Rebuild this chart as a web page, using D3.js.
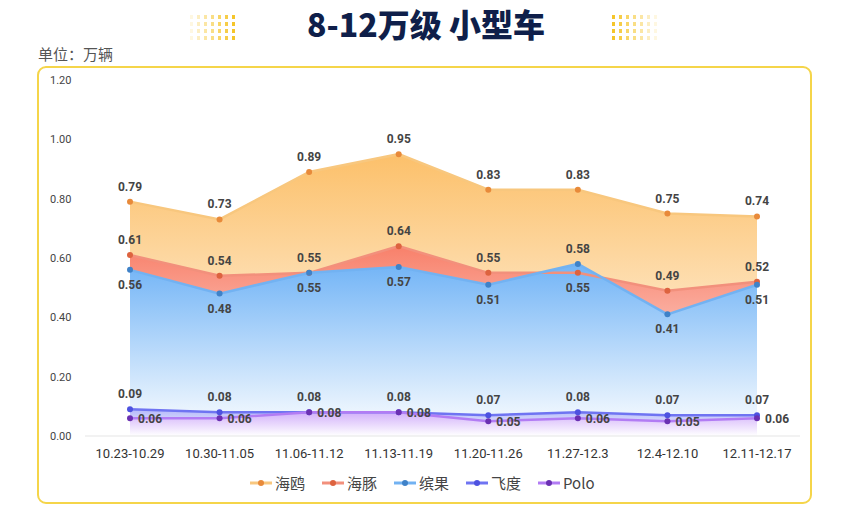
<!DOCTYPE html>
<html><head><meta charset="utf-8">
<script src="https://cdn.jsdelivr.net/npm/d3@7"></script>
<style>body{margin:0;background:#fff;font-family:"Noto Sans CJK SC","Noto Sans",sans-serif}</style>
</head><body>
<svg id="c" width="852" height="516"></svg>
<script>
const categories = ["10.23-10.29","10.30-11.05","11.06-11.12","11.13-11.19","11.20-11.26","11.27-12.3","12.4-12.10","12.11-12.17"];
const haiou = [0.79,0.73,0.89,0.95,0.83,0.83,0.75,0.74];
const haitun = [0.61,0.54,0.55,0.64,0.55,0.55,0.49,0.52];
const binguo = [0.56,0.48,0.55,0.57,0.51,0.58,0.41,0.51];
const feidu = [0.09,0.08,0.08,0.08,0.07,0.08,0.07,0.07];
const polo = [0.06,0.06,0.08,0.08,0.05,0.06,0.05,0.06];
const yTicks = [0,0.2,0.4,0.6,0.8,1.0,1.2];

const series = [
  {name:"海鸥", v:haiou, line:"#f8c77e", dot:"#e88a3a", fill:"#fcc06a", pos:"above"},
  {name:"海豚", v:haitun, line:"#f2907c", dot:"#dd633f", fill:"#f8806a", pos:"above"},
  {name:"缤果", v:binguo, line:"#72b2f2", dot:"#3f82c8", fill:"#72b4f6", pos:"below"},
  {name:"飞度", v:feidu, line:"#6f74f2", dot:"#4d52e0", fill:"#b4b8fa", pos:"above"},
  {name:"Polo", v:polo, line:"#b27cf4", dot:"#6a30b2", fill:"#d2b0fa", pos:"right"}
];

const svg = d3.select("#c");
const x = d3.scalePoint().domain(categories).range([130,757]);
const y = d3.scaleLinear().domain([0,1.2]).range([436,80]);

svg.append("rect").attr("x",38).attr("y",67).attr("width",773).attr("height",436)
  .attr("rx",8).attr("fill","#fff").attr("stroke","#f5d54a").attr("stroke-width",2);

svg.append("text").attr("x",426).attr("y",37).attr("text-anchor","middle")
  .style("font-size","32px").style("font-weight","900").style("fill","#0f1f4a").text("8-12万级 小型车");
[[190,false],[612,true]].forEach(([x0,flip]) => {
  for (let c=0;c<7;c++) for (let r=0;r<4;r++) {
    const op = flip ? 1 - c/7 : (c+1)/7;
    svg.append("rect").attr("x",x0+c*7).attr("y",15+r*7).attr("width",3).attr("height",4)
      .attr("fill","#f5c52a").attr("opacity",op);
  }
});
svg.append("text").attr("x",38).attr("y",60).style("font-size","15px").style("fill","#555").text("单位：万辆");

svg.selectAll(".yt").data(yTicks).join("text").attr("x",50).attr("y",d=>y(d)+4)
  .style("font-size","11px").style("fill","#444").style("font-family","Roboto,sans-serif").text(d=>d.toFixed(2));
svg.selectAll(".xt").data(categories).join("text").attr("x",d=>x(d)).attr("y",458).attr("text-anchor","middle")
  .style("font-size","13px").style("fill","#333").style("font-family","Roboto,sans-serif").text(d=>d);

const defs = svg.append("defs");
series.forEach((s,i) => {
  const g = defs.append("linearGradient").attr("id","g"+i).attr("gradientUnits","userSpaceOnUse")
    .attr("x1",0).attr("x2",0).attr("y1",y(d3.max(s.v))).attr("y2",y(0));
  g.append("stop").attr("offset","0%").attr("stop-color",s.fill);
  g.append("stop").attr("offset","100%").attr("stop-color","#ffffff");
});

const area = d3.area().x((d,i)=>x(categories[i])).y0(y(0)).y1(d=>y(d));
const line = d3.line().x((d,i)=>x(categories[i])).y(d=>y(d));
series.forEach((s,i) => {
  svg.append("path").attr("d",area(s.v)).attr("fill",`url(#g${i})`);
});
svg.append("line").attr("x1",85).attr("x2",800).attr("y1",y(0)).attr("y2",y(0)).attr("stroke","#e5e5e5");
series.forEach(s => {
  svg.append("path").attr("d",line(s.v)).attr("fill","none").attr("stroke",s.line).attr("stroke-width",2.5);
  svg.selectAll(null).data(s.v).join("circle").attr("cx",(d,i)=>x(categories[i])).attr("cy",d=>y(d))
    .attr("r",3).attr("fill",s.dot);
});
series.forEach(s => {
  svg.selectAll(null).data(s.v).join("text")
    .attr("x",(d,i)=>x(categories[i]) + (s.pos==="right"?8:0))
    .attr("y",(d,i)=>{
      let pos = s.pos;
      if (s.name==="缤果" && i===5) pos="above";
      if (s.name==="海豚" && i===5) pos="below";
      return pos==="above" ? y(d)-11 : pos==="below" ? y(d)+19 : y(d)+5;
    })
    .attr("text-anchor",s.pos==="right"?"start":"middle")
    .style("font-size","12px").style("font-weight","bold").style("fill","#444")
    .style("font-family","Roboto,sans-serif").text(d=>d.toFixed(2));
});

const lx = [250,322,394,466,538];
series.forEach((s,i) => {
  const g = svg.append("g").attr("transform",`translate(${lx[i]},483)`);
  g.append("line").attr("x1",0).attr("x2",22).attr("stroke",s.line).attr("stroke-width",3);
  g.append("circle").attr("cx",11).attr("r",3).attr("fill",s.dot);
  g.append("text").attr("x",25).attr("y",6).style("font-size","15px").style("fill","#444").text(s.name);
});
</script>
</body></html>
